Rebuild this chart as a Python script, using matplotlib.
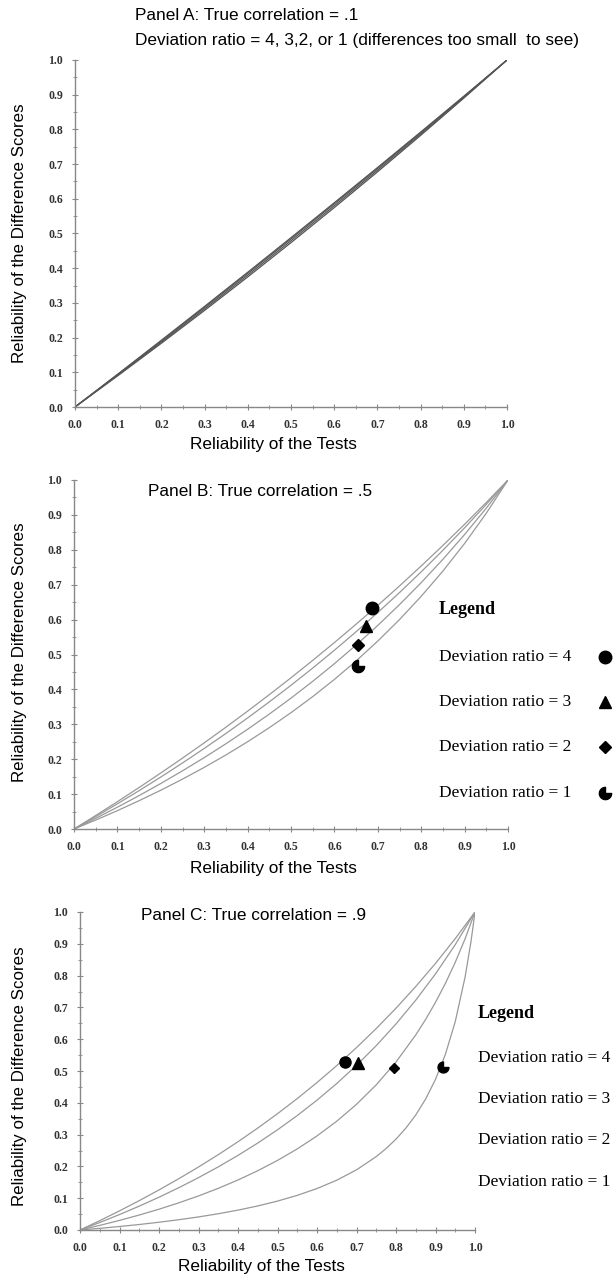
import numpy as np
import matplotlib
matplotlib.use("Agg")
import matplotlib.pyplot as plt
from matplotlib.path import Path
from matplotlib.ticker import MultipleLocator

W, H = 613, 1277

# Panel A (true correlation = .1): reliability of tests -> reliability of difference scores
xa = [0.0, 0.1, 0.2, 0.3, 0.4, 0.5, 0.6, 0.7, 0.8, 0.9, 1.0]
a_k4 = [0.0, 0.0957, 0.1924, 0.2900, 0.3885, 0.4880, 0.5884, 0.6898, 0.7922, 0.8956, 1.0]
a_k3 = [0.0, 0.0946, 0.1903, 0.2872, 0.3852, 0.4845, 0.5851, 0.6868, 0.7899, 0.8943, 1.0]
a_k2 = [0.0, 0.0927, 0.1870, 0.2828, 0.3802, 0.4792, 0.5798, 0.6822, 0.7863, 0.8922, 1.0]
a_k1 = [0.0, 0.0909, 0.1837, 0.2784, 0.3750, 0.4737, 0.5745, 0.6774, 0.7826, 0.8901, 1.0]

# Panel B (true correlation = .5)
xb = [0.0, 0.05, 0.1, 0.15, 0.2, 0.25, 0.3, 0.35, 0.4, 0.45, 0.5,
      0.55, 0.6, 0.65, 0.7, 0.75, 0.8, 0.85, 0.9, 0.95, 1.0]
b_k4 = [0.0, 0.0387, 0.0783, 0.1189, 0.1605, 0.2031, 0.2468, 0.2917, 0.3377, 0.3849, 0.4333,
        0.4831, 0.5342, 0.5868, 0.6408, 0.6964, 0.7536, 0.8125, 0.8731, 0.9356, 1.0]
b_k3 = [0.0, 0.0355, 0.0722, 0.1099, 0.1489, 0.1892, 0.2308, 0.2737, 0.3182, 0.3642, 0.4118,
        0.4611, 0.5122, 0.5652, 0.6203, 0.6774, 0.7368, 0.7987, 0.8630, 0.9301, 1.0]
b_k2 = [0.0, 0.0306, 0.0625, 0.0957, 0.1304, 0.1667, 0.2045, 0.2442, 0.2857, 0.3293, 0.3750,
        0.4231, 0.4737, 0.5270, 0.5833, 0.6429, 0.7059, 0.7727, 0.8438, 0.9194, 1.0]
b_k1 = [0.0, 0.0256, 0.0526, 0.0811, 0.1111, 0.1429, 0.1765, 0.2121, 0.2500, 0.2903, 0.3333,
        0.3793, 0.4286, 0.4815, 0.5385, 0.6000, 0.6667, 0.7391, 0.8182, 0.9048, 1.0]

# Panel C (true correlation = .9)
xc = [0.0, 0.05, 0.1, 0.15, 0.2, 0.25, 0.3, 0.35, 0.4, 0.45, 0.5,
      0.55, 0.6, 0.65, 0.7, 0.75, 0.8, 0.85, 0.9, 0.95, 1.0]
c_k4 = [0.0, 0.0294, 0.0602, 0.0923, 0.1260, 0.1612, 0.1981, 0.2369, 0.2776, 0.3205, 0.3657,
        0.4133, 0.4637, 0.5170, 0.5736, 0.6336, 0.6975, 0.7656, 0.8384, 0.9163, 1.0]
c_k3 = [0.0, 0.0236, 0.0486, 0.0751, 0.1031, 0.1329, 0.1647, 0.1985, 0.2347, 0.2734, 0.3151,
        0.3599, 0.4083, 0.4607, 0.5177, 0.5798, 0.6479, 0.7227, 0.8054, 0.8973, 1.0]
xc2 = [0.0, 0.05, 0.1, 0.15, 0.2, 0.25, 0.3, 0.35, 0.4, 0.45, 0.5,
       0.55, 0.6, 0.65, 0.7, 0.75, 0.8, 0.85, 0.875, 0.9, 0.925, 0.95, 0.975, 1.0]
c_k2 = [0.0, 0.0145, 0.0302, 0.0471, 0.0654, 0.0854, 0.1071, 0.1310, 0.1573, 0.1864, 0.2188,
        0.2550, 0.2958, 0.3421, 0.3952, 0.4565, 0.5283, 0.6134, 0.6622, 0.7159, 0.7754,
        0.8418, 0.9161, 1.0]
xc1 = [0.0, 0.05, 0.1, 0.15, 0.2, 0.25, 0.3, 0.35, 0.4, 0.45, 0.5, 0.55, 0.6, 0.65,
       0.7, 0.75, 0.775, 0.8, 0.825, 0.85, 0.875, 0.9, 0.925, 0.95, 0.975, 0.99, 1.0]
c_k1 = [0.0, 0.0052, 0.0110, 0.0173, 0.0244, 0.0323, 0.0411, 0.0511, 0.0625, 0.0756, 0.0909,
        0.1089, 0.1304, 0.1566, 0.1892, 0.2308, 0.2562, 0.2857, 0.3204, 0.3617, 0.4118,
        0.4737, 0.5522, 0.6552, 0.7959, 0.9083, 1.0]

# marker positions (deviation ratio 4, 3, 2, 1)
b_mx = [0.687, 0.673, 0.654, 0.654]
b_my = [0.633, 0.582, 0.527, 0.467]
c_mx = [0.671, 0.704, 0.795, 0.919]
c_my = [0.528, 0.525, 0.509, 0.513]

ratios = ["4", "3", "2", "1"]
pie = Path.wedge(90, 360)
markers = ["o", "^", "D", pie]
b_ms = [9, 8.5, 6, 9]
c_ms = [8, 8, 5.5, 8]

serif = ["Liberation Serif", "DejaVu Serif"]
sans = ["Liberation Sans", "DejaVu Sans"]


def fx(x):
    return x / W


def fy(y):
    return 1 - y / H


def make_axes(fig, left, right, top, bottom):
    ax = fig.add_axes([fx(left), fy(bottom), (right - left) / W, (bottom - top) / H])
    ax.set_xlim(0, 1)
    ax.set_ylim(0, 1)
    for s in ["top", "right"]:
        ax.spines[s].set_visible(False)
    for s in ["left", "bottom"]:
        ax.spines[s].set_color("#888888")
        ax.spines[s].set_linewidth(1.0)
    ax.xaxis.set_major_locator(MultipleLocator(0.1))
    ax.yaxis.set_major_locator(MultipleLocator(0.1))
    ax.xaxis.set_minor_locator(MultipleLocator(0.05))
    ax.yaxis.set_minor_locator(MultipleLocator(0.05))
    ax.tick_params(which="major", direction="inout", length=5, width=0.8, color="#888888",
                   labelsize=8.5, labelcolor="#333333", pad=6)
    ax.tick_params(which="minor", direction="inout", length=3, width=0.6, color="#888888")
    ax.set_xticklabels([f"{v:.1f}" for v in ax.get_xticks()], family=serif, fontweight="bold")
    ax.set_yticklabels([f"{v:.1f}" for v in ax.get_yticks()], family=serif, fontweight="bold")
    ax.patch.set_alpha(0)
    return ax


fig = plt.figure(figsize=(W / 100, H / 100), dpi=100)

# ---- Panel A ----
axA = make_axes(fig, 75, 507, 60, 407)
for ys in [a_k4, a_k3, a_k2, a_k1]:
    axA.plot(xa, ys, color="#555555", lw=0.9)
fig.text(fx(135), fy(15), "Panel A: True correlation = .1", family=sans, fontsize=12.4, va="center")
fig.text(fx(135), fy(40), "Deviation ratio = 4, 3,2, or 1 (differences too small  to see)",
         family=sans, fontsize=12.4, va="center")
fig.text(fx(273), fy(445), "Reliability of the Tests", family=sans, fontsize=12.4,
         ha="center", va="center")
fig.text(fx(20), fy(233), "Reliability of the Difference Scores", family=sans, fontsize=12.2,
         rotation=90, ha="center", va="center")

# ---- Panel B ----
axB = make_axes(fig, 74, 508, 480, 829)
for ys in [b_k4, b_k3, b_k2, b_k1]:
    axB.plot(xb, ys, color="#999999", lw=0.9)
for i in range(4):
    axB.plot(b_mx[i], b_my[i], marker=markers[i], ms=b_ms[i], color="black", ls="none")
fig.text(fx(148), fy(492), "Panel B: True correlation = .5", family=sans, fontsize=12.4, va="center")
fig.text(fx(273), fy(868), "Reliability of the Tests", family=sans, fontsize=12.4,
         ha="center", va="center")
fig.text(fx(20), fy(652), "Reliability of the Difference Scores", family=sans, fontsize=12.2,
         rotation=90, ha="center", va="center")
fig.text(fx(439), fy(610), "Legend", family=serif, fontsize=13, fontweight="bold", va="center")
b_rows = [657, 702, 747, 793]
for i in range(4):
    fig.text(fx(439), fy(b_rows[i]), "Deviation ratio = " + ratios[i], family=serif,
             fontsize=12.5, va="center")
    fig.lines.append(plt.Line2D([fx(605)], [fy(b_rows[i])], marker=markers[i], ms=b_ms[i],
                                color="black", ls="none", transform=fig.transFigure))

# ---- Panel C ----
axC = make_axes(fig, 80, 475, 912, 1230)
for ys in [c_k4, c_k3]:
    axC.plot(xc, ys, color="#999999", lw=0.9)
axC.plot(xc2, c_k2, color="#999999", lw=0.9)
axC.plot(xc1, c_k1, color="#999999", lw=0.9)
for i in range(4):
    axC.plot(c_mx[i], c_my[i], marker=markers[i], ms=c_ms[i], color="black", ls="none")
fig.text(fx(141), fy(915), "Panel C: True correlation = .9", family=sans, fontsize=12.4, va="center")
fig.text(fx(261), fy(1267), "Reliability of the Tests", family=sans, fontsize=12.4,
         ha="center", va="center")
fig.text(fx(20), fy(1076), "Reliability of the Difference Scores", family=sans, fontsize=12.2,
         rotation=90, ha="center", va="center")
fig.text(fx(478), fy(1013), "Legend", family=serif, fontsize=13, fontweight="bold", va="center")
c_rows = [1058, 1099, 1140, 1182]
for i in range(4):
    fig.text(fx(478), fy(c_rows[i]), "Deviation ratio = " + ratios[i], family=serif,
             fontsize=12.5, va="center")

fig.savefig("out.png", dpi=100)
